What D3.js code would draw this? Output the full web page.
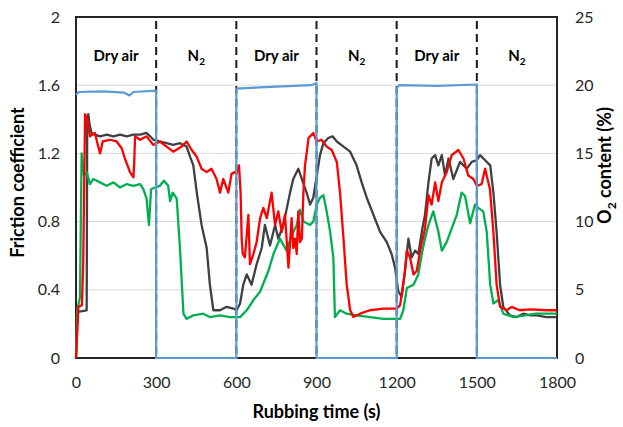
<!DOCTYPE html>
<html>
<head>
<meta charset="utf-8">
<script src="https://cdn.jsdelivr.net/npm/d3@7"></script>
<style>
  body { margin: 0; background: #fff; }
  text { font-family: Lato, "Open Sans", sans-serif; }
</style>
</head>
<body>
<svg id="chart" width="623" height="427"></svg>
<script>
// series: time (s) and friction coefficient
const blackTime = [0, 6, 40, 42, 46, 52, 58, 71, 90, 115, 140, 165, 190, 215, 240, 264, 290, 310, 339, 364, 389, 414, 427, 439, 452, 470, 489, 501, 514, 539, 564, 589, 601, 614, 626, 639, 657, 676, 695, 707, 726, 745, 757, 776, 801, 813, 832, 845, 863, 876, 888, 901, 913, 926, 944, 960, 976, 1001, 1026, 1050, 1069, 1088, 1113, 1138, 1163, 1181, 1194, 1206, 1219, 1231, 1244, 1256, 1269, 1281, 1294, 1306, 1319, 1331, 1344, 1356, 1369, 1381, 1394, 1412, 1437, 1462, 1481, 1500, 1512, 1531, 1550, 1562, 1574, 1587, 1599, 1624, 1649, 1674, 1699, 1724, 1760, 1800];
const blackCof = [0, 0.27, 0.28, 1.38, 1.43, 1.36, 1.32, 1.31, 1.30, 1.31, 1.30, 1.31, 1.30, 1.31, 1.31, 1.32, 1.28, 1.27, 1.26, 1.25, 1.26, 1.24, 1.18, 1.13, 0.97, 0.78, 0.645, 0.43, 0.28, 0.28, 0.30, 0.29, 0.28, 0.32, 0.43, 0.49, 0.43, 0.55, 0.645, 0.78, 0.66, 0.78, 0.70, 0.78, 0.97, 1.05, 1.11, 1.05, 0.97, 0.90, 0.94, 1.07, 1.19, 1.26, 1.29, 1.30, 1.27, 1.24, 1.21, 1.13, 1.03, 0.94, 0.84, 0.74, 0.68, 0.61, 0.53, 0.39, 0.36, 0.51, 0.70, 0.59, 0.63, 0.61, 0.74, 0.84, 1.03, 1.17, 1.19, 1.13, 1.19, 1.07, 1.17, 1.05, 1.15, 1.11, 1.15, 1.16, 1.19, 1.16, 1.13, 0.97, 0.74, 0.43, 0.30, 0.25, 0.24, 0.26, 0.25, 0.25, 0.24, 0.24];

const redTime = [0, 9, 22, 27, 34, 42, 52, 71, 80, 90, 100, 127, 152, 171, 183, 202, 215, 218, 221, 240, 264, 289, 314, 339, 364, 395, 414, 433, 452, 470, 489, 507, 526, 539, 551, 570, 582, 595, 601, 610, 616, 620, 624, 632, 645, 651, 664, 676, 689, 701, 714, 732, 745, 757, 770, 782, 795, 807, 813, 820, 826, 832, 838, 845, 851, 857, 863, 870, 888, 901, 919, 938, 957, 976, 988, 1001, 1013, 1026, 1038, 1063, 1100, 1150, 1200, 1213, 1231, 1238, 1250, 1263, 1275, 1288, 1306, 1319, 1331, 1344, 1356, 1369, 1387, 1406, 1431, 1450, 1468, 1487, 1500, 1518, 1531, 1549, 1562, 1574, 1587, 1612, 1630, 1660, 1700, 1760, 1800];
const redCof = [0, 0.30, 0.31, 0.55, 1.43, 1.40, 1.30, 1.32, 1.26, 1.20, 1.27, 1.28, 1.27, 1.23, 1.17, 1.09, 1.06, 1.15, 1.30, 1.28, 1.30, 1.25, 1.27, 1.24, 1.21, 1.24, 1.27, 1.22, 1.18, 1.11, 1.09, 1.11, 1.05, 0.97, 1.05, 0.97, 1.08, 1.09, 1.08, 1.13, 0.97, 0.70, 0.61, 0.59, 0.84, 0.55, 0.61, 0.68, 0.82, 0.88, 0.82, 0.97, 0.78, 0.86, 0.74, 0.84, 0.53, 0.82, 0.645, 0.70, 0.61, 0.86, 0.68, 0.70, 0.97, 1.13, 1.20, 1.29, 1.32, 1.27, 1.28, 1.24, 1.22, 1.15, 0.97, 0.70, 0.43, 0.28, 0.24, 0.26, 0.28, 0.29, 0.29, 0.31, 0.51, 0.63, 0.59, 0.49, 0.51, 0.63, 0.76, 0.955, 0.90, 1.03, 0.92, 1.03, 1.09, 1.19, 1.22, 1.17, 1.07, 1.05, 1.01, 1.02, 1.11, 0.99, 0.74, 0.43, 0.30, 0.28, 0.30, 0.28, 0.285, 0.28, 0.28];

const greenTime = [0, 5, 15, 21, 30, 40, 52, 65, 90, 115, 140, 165, 190, 215, 240, 252, 264, 273, 281, 296, 314, 329, 345, 352, 362, 377, 389, 402, 414, 439, 476, 501, 539, 576, 614, 639, 664, 689, 720, 739, 763, 788, 807, 826, 838, 851, 876, 888, 901, 913, 926, 938, 951, 963, 969, 988, 1013, 1050, 1100, 1150, 1213, 1225, 1238, 1263, 1281, 1294, 1306, 1319, 1337, 1356, 1369, 1387, 1406, 1425, 1443, 1456, 1475, 1493, 1505, 1524, 1537, 1550, 1562, 1581, 1599, 1637, 1680, 1720, 1800];
const greenCof = [0, 0.28, 0.36, 1.20, 1.07, 1.09, 1.02, 1.05, 1.03, 1.01, 1.03, 1.00, 1.02, 1.01, 1.02, 0.99, 0.935, 0.78, 0.99, 1.00, 1.01, 1.04, 1.01, 0.92, 0.97, 0.935, 0.645, 0.26, 0.23, 0.25, 0.26, 0.24, 0.25, 0.24, 0.24, 0.28, 0.34, 0.39, 0.51, 0.61, 0.70, 0.63, 0.72, 0.78, 0.87, 0.80, 0.78, 0.80, 0.90, 0.94, 0.955, 0.86, 0.74, 0.59, 0.24, 0.28, 0.26, 0.25, 0.24, 0.23, 0.23, 0.28, 0.41, 0.43, 0.49, 0.61, 0.70, 0.78, 0.86, 0.74, 0.63, 0.68, 0.76, 0.84, 0.97, 0.95, 0.79, 0.90, 0.88, 0.86, 0.74, 0.43, 0.32, 0.34, 0.26, 0.24, 0.25, 0.26, 0.26];

// O2 content (%), right axis
const o2Time = [0, 10, 100, 180, 200, 215, 300, 300, 600, 600, 750, 880, 900, 900, 1200, 1200, 1210, 1350, 1500, 1500, 1800];
const o2Content = [19.3, 19.5, 19.55, 19.45, 19.25, 19.5, 19.6, 0, 0, 19.75, 19.9, 20.0, 20.15, 0, 0, 19.8, 20.0, 19.95, 20.05, 0, 0];

const xTicks = [0, 300, 600, 900, 1200, 1500, 1800];
const yTicks = [0, 0.4, 0.8, 1.2, 1.6, 2];
const y2Ticks = [0, 5, 10, 15, 20, 25];
const switchTimes = [300, 600, 900, 1200, 1500];
const phaseNames = ['Dry air', 'N2', 'Dry air', 'N2', 'Dry air', 'N2'];

const svg = d3.select('#chart'),
  margin = { top: 17, right: 66, bottom: 69, left: 76 },
  width = +svg.attr('width') - margin.left - margin.right,
  height = +svg.attr('height') - margin.top - margin.bottom;

const graph = svg.append('g')
  .attr('transform', `translate(${margin.left},${margin.top})`);

const x = d3.scaleLinear().domain([0, 1800]).range([0, width]);
const y = d3.scaleLinear().domain([0, 2]).range([height, 0]);
const y2 = d3.scaleLinear().domain([0, 25]).range([height, 0]);

// gridlines
graph.append('g')
  .selectAll('line')
  .data(yTicks.filter(d => d > 0 && d < 2))
  .enter()
  .append('line')
  .attr('x1', 0)
  .attr('x2', width)
  .attr('y1', d => y(d))
  .attr('y2', d => y(d))
  .attr('stroke', '#d9d9d9')
  .attr('stroke-width', 1);

// axes
const xAxis = d3.axisBottom(x).tickValues(xTicks).tickSize(0).tickPadding(19)
  .tickFormat(d3.format('d'));
const yAxis = d3.axisLeft(y).tickValues(yTicks).tickSize(0).tickPadding(16)
  .tickFormat(d => d3.format('~g')(d));
const y2Axis = d3.axisRight(y2).tickValues(y2Ticks).tickSize(0).tickPadding(18);

const xAxisGroup = graph.append('g').attr('transform', `translate(0,${height})`).call(xAxis);
const yAxisGroup = graph.append('g').call(yAxis);
const y2AxisGroup = graph.append('g').attr('transform', `translate(${width},0)`).call(y2Axis);

[xAxisGroup, yAxisGroup, y2AxisGroup].forEach(g => {
  g.select('.domain').remove();
  g.selectAll('text')
    .attr('font-size', 16)
    .attr('fill', '#262626');
});

// plot frame
graph.append('rect')
  .attr('x', 0)
  .attr('y', 0)
  .attr('width', width)
  .attr('height', height)
  .attr('fill', 'none')
  .attr('stroke', '#262626')
  .attr('stroke-width', 2);

// dashed switch lines
graph.append('g')
  .selectAll('line')
  .data(switchTimes)
  .enter()
  .append('line')
  .attr('x1', d => x(d))
  .attr('x2', d => x(d))
  .attr('y1', 4)
  .attr('y2', height)
  .attr('stroke', '#1a1a1a')
  .attr('stroke-width', 2)
  .attr('stroke-dasharray', '8,5');

// phase labels
const bounds = [0].concat(switchTimes, [1800]);
const labels = graph.append('g')
  .selectAll('text')
  .data(phaseNames)
  .enter()
  .append('text')
  .attr('x', (d, i) => x((bounds[i] + bounds[i + 1]) / 2))
  .attr('y', 44)
  .attr('text-anchor', 'middle')
  .attr('font-size', 15)
  .attr('font-weight', 'bold')
  .attr('fill', '#000');

labels.each(function (d) {
  const t = d3.select(this);
  if (d === 'N2') {
    t.append('tspan').text('N');
    t.append('tspan').text('2').attr('font-size', 10).attr('dy', 4);
  } else {
    t.text(d);
  }
});

// curves
const line = d3.line()
  .x(d => x(d[0]))
  .y(d => y(d[1]));
const line2 = d3.line()
  .x(d => x(d[0]))
  .y(d => y2(d[1]));

const series = [
  { t: blackTime, v: blackCof, color: '#404040' },
  { t: greenTime, v: greenCof, color: '#00b050' },
  { t: redTime, v: redCof, color: '#ff0000' }
];

series.forEach(s => {
  graph.append('path')
    .datum(s.t.map((t, i) => [t, s.v[i]]))
    .attr('d', line)
    .attr('fill', 'none')
    .attr('stroke', s.color)
    .attr('stroke-width', 2.3)
    .attr('stroke-linejoin', 'round');
});

graph.append('path')
  .datum(o2Time.map((t, i) => [t, o2Content[i]]))
  .attr('d', line2)
  .attr('fill', 'none')
  .attr('stroke', '#5b9bd5')
  .attr('stroke-width', 2.2);

// axis titles
svg.append('text')
  .attr('transform', `translate(24,${margin.top + height / 2 - 5}) rotate(-90)`)
  .attr('text-anchor', 'middle')
  .attr('font-size', 18)
  .attr('font-weight', 'bold')
  .attr('fill', '#000')
  .text('Friction coefficient');

const t2 = svg.append('text')
  .attr('transform', `translate(611,${margin.top + height / 2 - 22}) rotate(-90)`)
  .attr('text-anchor', 'middle')
  .attr('font-size', 18)
  .attr('font-weight', 'bold')
  .attr('fill', '#000');
t2.append('tspan').text('O');
t2.append('tspan').text('2').attr('font-size', 12).attr('dy', 5);
t2.append('tspan').text(' content (%)').attr('dy', -5);

svg.append('text')
  .attr('x', margin.left + width / 2)
  .attr('y', 418)
  .attr('text-anchor', 'middle')
  .attr('font-size', 18)
  .attr('font-weight', 'bold')
  .attr('fill', '#000')
  .text('Rubbing time (s)');
</script>
</body>
</html>
